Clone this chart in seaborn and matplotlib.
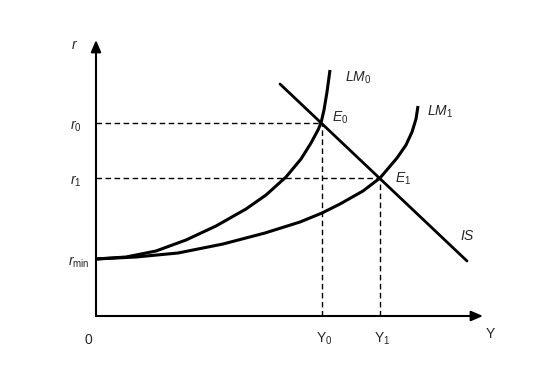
import matplotlib
matplotlib.use("Agg")
import matplotlib.pyplot as plt
import seaborn as sns
import pandas as pd

# ---- data (arbitrary units, origin at axis intersection) ----
r_min = 57
r0, r1 = 193, 138
Y0, Y1 = 226, 284

lm0_Y = [0, 30, 60, 90, 120, 150, 170, 190, 205, 215, 222, 225, 228, 231, 234]
lm0_r = [57, 59, 65, 76, 90, 107, 121, 139, 157, 173, 186, 193, 206, 224, 246]

lm1_Y = [0, 40, 82, 127, 169, 204, 226, 244, 267, 284, 301, 310, 316, 320, 322]
lm1_r = [57, 59, 63, 72, 83, 94, 103, 112, 125, 138, 158, 171, 184, 197, 210]

is_Y = [184, 371]
is_r = [232, 55]

Y_axis_end = 387
r_axis_end = 276

sns.set_style("white")
plt.rcParams["font.family"] = ["Liberation Sans", "DejaVu Sans"]
plt.rcParams["mathtext.fontset"] = "custom"
plt.rcParams["mathtext.rm"] = "Liberation Sans"
plt.rcParams["mathtext.it"] = "Liberation Sans:italic"

fig = plt.figure(figsize=(5.35, 3.66), dpi=100)
ax = fig.add_axes([0, 0, 1, 1])
ax.set_xlim(-96, 439)
ax.set_ylim(-50, 316)
ax.axis("off")

curves = pd.concat([
    pd.DataFrame({"Y": lm0_Y, "r": lm0_r, "curve": "LM0"}),
    pd.DataFrame({"Y": lm1_Y, "r": lm1_r, "curve": "LM1"}),
])
sns.lineplot(data=curves, x="Y", y="r", units="curve", estimator=None, sort=False,
             color="black", linewidth=2.2, ax=ax, solid_capstyle="butt",
             solid_joinstyle="round")
sns.lineplot(x=is_Y, y=is_r, color="black", linewidth=2.0, ax=ax, sort=False)

# dashed guide lines
dash = dict(color="black", linewidth=1.0, linestyle=(0, (4, 2.5)))
for Yv, rv in [(Y0, r0), (Y1, r1)]:
    ax.plot([0, Yv], [rv, rv], **dash)
    ax.plot([Yv, Yv], [0, rv], **dash)

# axes with arrows
ax.annotate("", xy=(Y_axis_end, 0), xytext=(0, 0),
            arrowprops=dict(arrowstyle="-|>,head_length=0.7,head_width=0.3",
                            color="black", lw=1.5, shrinkA=0, shrinkB=0))
ax.annotate("", xy=(0, r_axis_end), xytext=(0, 0),
            arrowprops=dict(arrowstyle="-|>,head_length=0.7,head_width=0.3",
                            color="black", lw=1.5, shrinkA=0, shrinkB=0))

fs = 10
ax.text(-21, 271, r"$r$", fontsize=fs, ha="center", va="center")
ax.text(-14, r0 - 3, r"$r_0$", fontsize=fs, ha="right", va="center")
ax.text(-14, r1 - 3, r"$r_1$", fontsize=fs, ha="right", va="center")
ax.text(-6, r_min - 3, r"$r_{\mathrm{min}}$", fontsize=fs, ha="right", va="center")
ax.text(-8, -24, "0", fontsize=fs, ha="center", va="center")
ax.text(Y0 + 2, -23, r"$\mathrm{Y}_0$", fontsize=fs, ha="center", va="center")
ax.text(Y1 + 2, -23, r"$\mathrm{Y}_1$", fontsize=fs, ha="center", va="center")
ax.text(394, -18, "Y", fontsize=fs, ha="center", va="center")
ax.text(249, 238, r"$LM_0$", fontsize=fs, ha="left", va="center")
ax.text(331, 204, r"$LM_1$", fontsize=fs, ha="left", va="center")
ax.text(236, 198, r"$E_0$", fontsize=fs, ha="left", va="center")
ax.text(299, 137, r"$E_1$", fontsize=fs, ha="left", va="center")
ax.text(364, 80, r"$IS$", fontsize=fs, ha="left", va="center")

fig.savefig("out.png", dpi=100, facecolor="white")
